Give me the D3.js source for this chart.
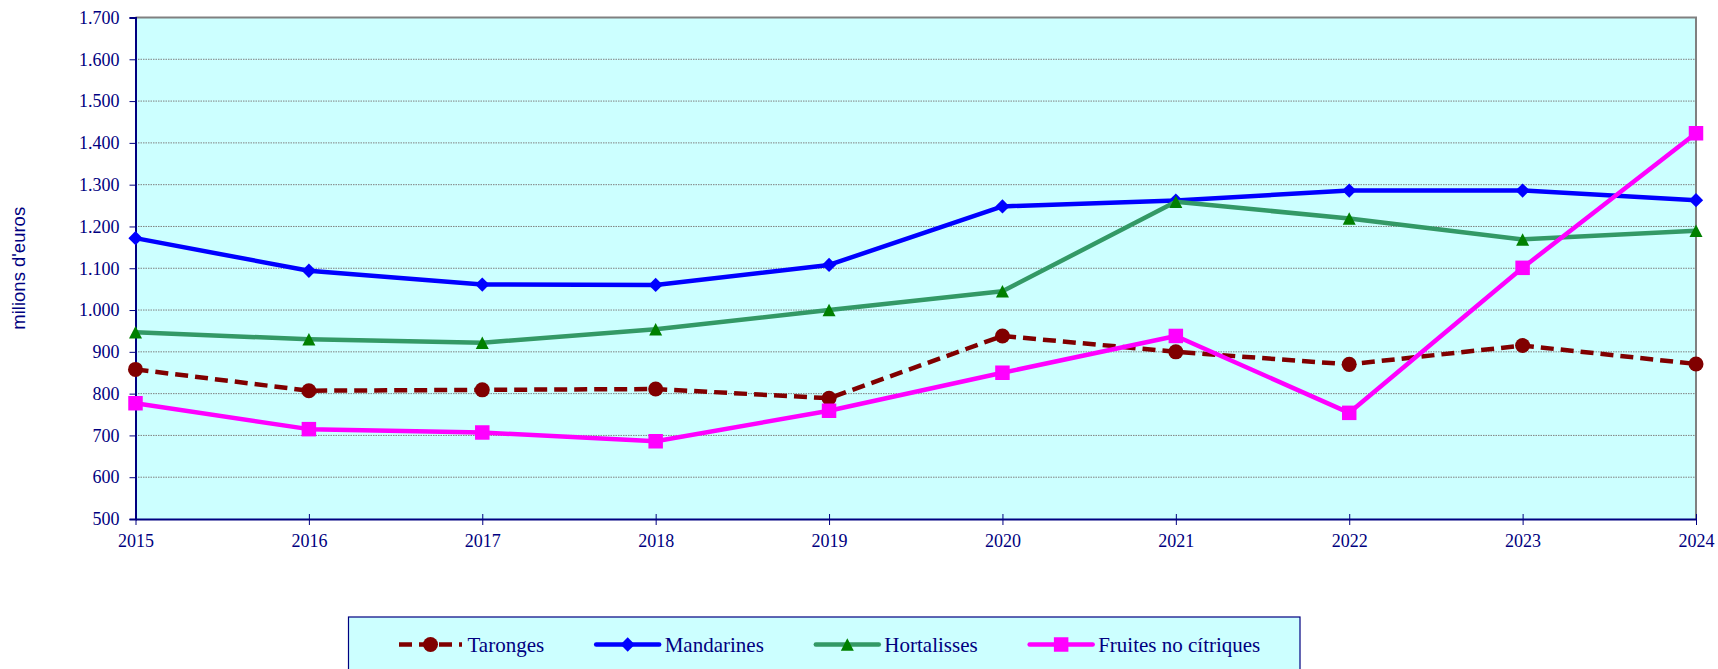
<!DOCTYPE html>
<html lang="ca">
<head>
<meta charset="UTF-8">
<title>Exportacions</title>
<style>
  body { margin: 0; padding: 0; background: #fff; }
  svg { display: block; }
  .tick text { font-family: "Liberation Serif", "Times New Roman", serif; font-size: 18px; fill: #000080; }
  .legend text { font-family: "Liberation Serif", "Times New Roman", serif; font-size: 21px; fill: #000080; }
  .ytitle { font-family: "Liberation Sans", Arial, sans-serif; font-size: 18.5px; fill: #000080; }
</style>
</head>
<body>
<div id="chart"></div>
<script src="https://d3js.org/d3.v7.min.js"></script>
<script>
var years = [2015, 2016, 2017, 2018, 2019, 2020, 2021, 2022, 2023, 2024];
var taronges    = [858, 807, 809, 811, 789, 938, 900, 870, 915, 871];
var mandarines  = [1172, 1094, 1061, 1060, 1108, 1248, 1262, 1286, 1286, 1263];
var hortalisses = [947, 930, 922, 954, 1000, 1045, 1259, 1219, 1169, 1190];
var fruites     = [777, 715, 707, 686, 759, 850, 938, 754, 1101, 1423];
var yTicks = [500, 600, 700, 800, 900, 1000, 1100, 1200, 1300, 1400, 1500, 1600, 1700];

var series = [
  { name: "Taronges", values: taronges, line: "#800000", fill: "#800000", marker: "circle", dash: "13,7" },
  { name: "Mandarines", values: mandarines, line: "#0000FF", fill: "#0000FF", marker: "diamond", dash: null },
  { name: "Hortalisses", values: hortalisses, line: "#339966", fill: "#008000", marker: "triangle", dash: null },
  { name: "Fruites no cítriques", values: fruites, line: "#FF00FF", fill: "#FF00FF", marker: "square", dash: null }
];

var width = 1718, height = 669;
var margin = { left: 135.5, right: 22, top: 17.5, bottom: 150 };

var svg = d3.select("#chart").append("svg")
  .attr("width", width)
  .attr("height", height);

var x = d3.scaleLinear()
  .domain([years[0], years[years.length - 1]])
  .range([margin.left, width - margin.right]);

var y = d3.scaleLinear()
  .domain([500, 1700])
  .range([height - margin.bottom, margin.top]);

var locale = d3.formatLocale({ decimal: ",", thousands: ".", grouping: [3], currency: ["", "€"] });
var fmt = locale.format(",d");

// plot background
svg.append("rect")
  .attr("x", x.range()[0])
  .attr("y", y.range()[1])
  .attr("width", x.range()[1] - x.range()[0])
  .attr("height", y.range()[0] - y.range()[1])
  .attr("fill", "#CCFFFF");

// grid lines
svg.append("g")
  .selectAll("line")
  .data(yTicks.slice(1, -1))
  .enter().append("line")
  .attr("x1", x.range()[0])
  .attr("x2", x.range()[1])
  .attr("y1", function(d) { return y(d); })
  .attr("y2", function(d) { return y(d); })
  .attr("stroke", "#808080")
  .attr("stroke-width", 1)
  .attr("stroke-dasharray", "1.5,1");

// top and right border
svg.append("path")
  .attr("d", "M" + x.range()[0] + "," + y.range()[1] + "H" + x.range()[1] + "V" + y.range()[0])
  .attr("fill", "none")
  .attr("stroke", "#808080")
  .attr("stroke-width", 2);

// y axis
var yAxis = svg.append("g")
  .attr("transform", "translate(" + x.range()[0] + ",0)")
  .call(d3.axisLeft(y).tickValues(yTicks).tickFormat(fmt).tickSize(6).tickPadding(10));
yAxis.select(".domain").attr("stroke", "#000080").attr("stroke-width", 2);
yAxis.selectAll(".tick line").attr("stroke", "#000080");

// x axis
var xAxis = svg.append("g")
  .attr("transform", "translate(0," + y.range()[0] + ")")
  .call(d3.axisBottom(x).tickValues(years).tickFormat(d3.format("d")).tickSizeInner(6).tickSizeOuter(0).tickPadding(9));
xAxis.select(".domain").attr("stroke", "#000080").attr("stroke-width", 2);
xAxis.selectAll(".tick line").attr("stroke", "#000080").attr("y1", -5);

svg.append("text")
  .attr("class", "ytitle")
  .attr("transform", "translate(25," + ((y.range()[0] + y.range()[1]) / 2) + ")rotate(-90)")
  .attr("text-anchor", "middle")
  .text("milions d'euros");

// triangle as drawn by the spreadsheet: 13 wide, 12.5 tall, centred on its box
var boxTriangle = {
  draw: function(ctx) {
    ctx.moveTo(0, -6.25);
    ctx.lineTo(6.5, 6.25);
    ctx.lineTo(-6.5, 6.25);
    ctx.closePath();
  }
};

var symbols = {
  circle: d3.symbol().type(d3.symbolCircle).size(177),
  diamond: d3.symbol().type(d3.symbolDiamond2).size(130),
  triangle: d3.symbol().type(boxTriangle),
  square: d3.symbol().type(d3.symbolSquare).size(210)
};

var line = d3.line()
  .x(function(d, i) { return x(years[i]); })
  .y(function(d) { return y(d); });

series.forEach(function(s) {
  var g = svg.append("g");
  g.append("path")
    .datum(s.values)
    .attr("d", line)
    .attr("fill", "none")
    .attr("stroke", s.line)
    .attr("stroke-width", 4.5)
    .attr("stroke-linejoin", "round")
    .attr("stroke-dasharray", s.dash);
  g.selectAll("path.m")
    .data(s.values)
    .enter().append("path")
    .attr("class", "m")
    .attr("d", symbols[s.marker])
    .attr("transform", function(d, i) { return "translate(" + x(years[i]) + "," + y(d) + ")"; })
    .attr("fill", s.fill);
});

// legend
var legend = svg.append("g").attr("class", "legend");
var box = legend.append("rect")
  .attr("x", 348.5)
  .attr("y", 617)
  .attr("height", 80)
  .attr("fill", "#CCFFFF")
  .attr("stroke", "#000080")
  .attr("stroke-width", 1.2);

var lx = 399, ly = 644.5, lineLen = 63;
series.forEach(function(s) {
  var item = legend.append("g");
  item.append("line")
    .attr("x1", lx).attr("x2", lx + lineLen)
    .attr("y1", ly).attr("y2", ly)
    .attr("stroke", s.line)
    .attr("stroke-width", 4.5)
    .attr("stroke-linecap", s.dash ? "butt" : "round")
    .attr("stroke-dasharray", s.dash);
  item.append("path")
    .attr("d", symbols[s.marker])
    .attr("transform", "translate(" + (lx + lineLen / 2) + "," + ly + ")")
    .attr("fill", s.fill);
  var t = item.append("text")
    .attr("x", lx + lineLen + 5.5)
    .attr("y", ly + 7)
    .text(s.name);
  lx = lx + lineLen + 5.5 + t.node().getComputedTextLength() + 52;
});
box.attr("width", 1300 - 348.5);
</script>
</body>
</html>
